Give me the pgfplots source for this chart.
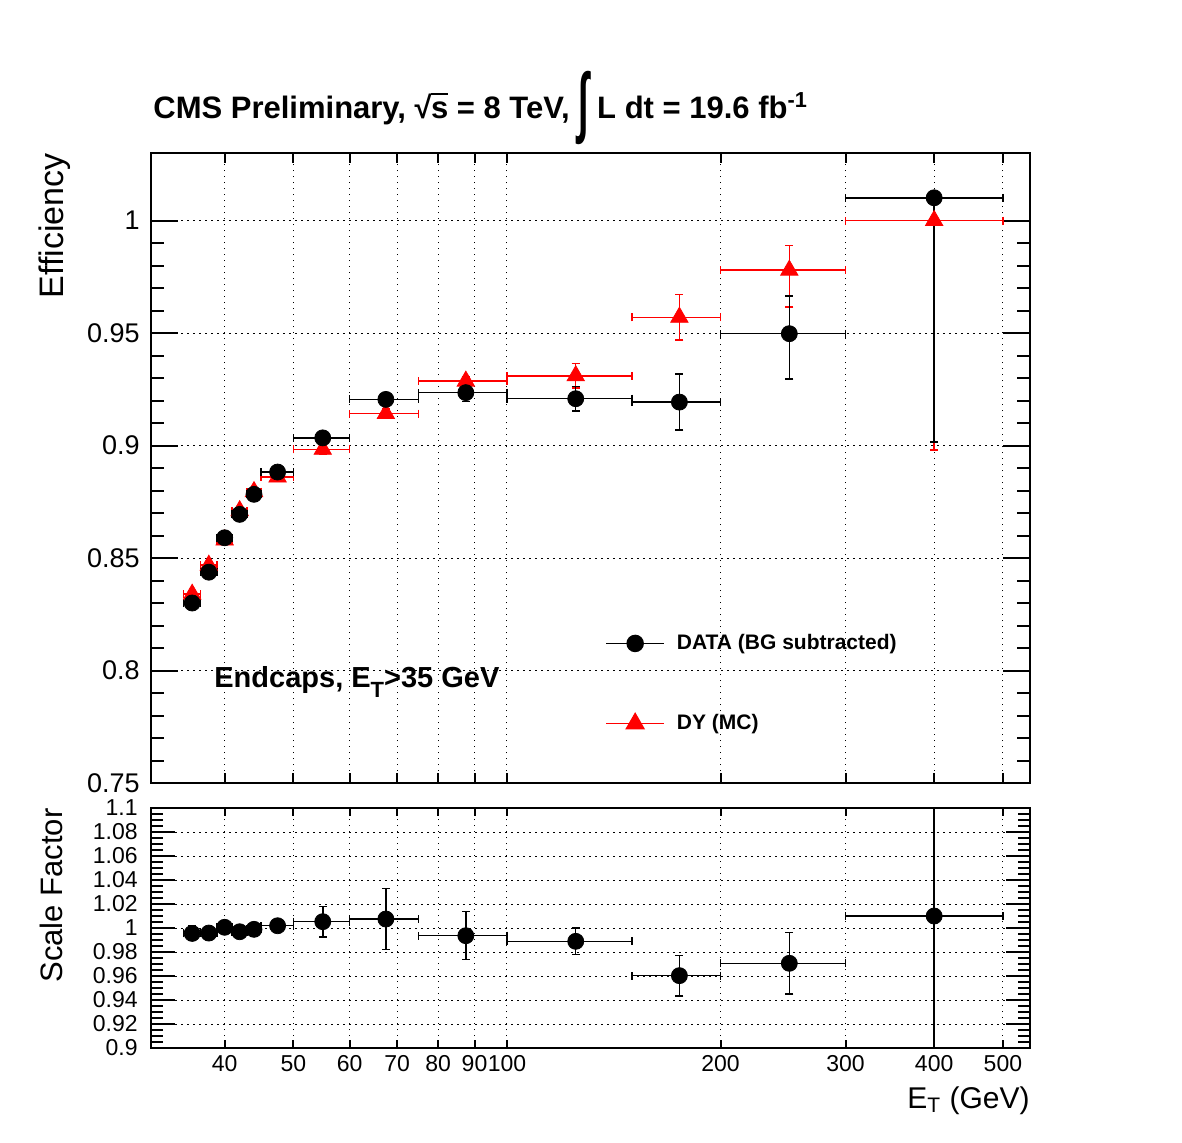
\documentclass[border=0pt]{standalone}
\usepackage{fontspec}
\setmainfont{Liberation Sans}
\usepackage{graphicx}
\usepackage{pgfplots}
\usepackage{pgfplotstable}
\pgfplotsset{compat=1.18}

\pgfplotstableread{
x y exm exp eym eyp
36 0.8300 1 1 0.0015 0.0015
38 0.8437 1 1 0.0015 0.0015
40 0.8590 1 1 0.0015 0.0015
42 0.8694 1 1 0.0015 0.0015
44 0.8783 1 1 0.0015 0.0015
47.5 0.8882 2.5 2.5 0.0015 0.0015
55 0.9034 5 5 0.0015 0.0015
67.5 0.9205 7.5 7.5 0.0015 0.0015
87.5 0.9235 12.5 12.5 0.004 0.004
125 0.9208 25 25 0.0055 0.0055
175 0.9193 25 25 0.0125 0.0125
250 0.9497 50 50 0.0202 0.0167
400 1.0101 100 100 0.1085 0.0
}\dataeff

\pgfplotstableread{
x y exm exp eym eyp
36 0.8339 1 1 0.0015 0.0015
38 0.8468 1 1 0.0015 0.0015
40 0.8580 1 1 0.0015 0.0015
42 0.8710 1 1 0.0015 0.0015
44 0.8795 1 1 0.0015 0.0015
47.5 0.8860 2.5 2.5 0.0015 0.0015
55 0.8983 5 5 0.002 0.002
67.5 0.9142 7.5 7.5 0.002 0.002
87.5 0.9286 12.5 12.5 0.002 0.002
125 0.9310 25 25 0.0055 0.0055
175 0.9570 25 25 0.0102 0.0102
250 0.9779 50 50 0.0164 0.0111
400 1.0000 100 100 0.1020 0.0
}\mceff

\pgfplotstableread{
x y exm exp eym eyp
36 0.9955 1 1 0.006 0.006
38 0.9958 1 1 0.003 0.003
40 1.0006 1 1 0.003 0.003
42 0.9969 1 1 0.003 0.003
44 0.9989 1 1 0.003 0.003
47.5 1.0019 2.5 2.5 0.003 0.003
55 1.0053 5 5 0.0128 0.0128
67.5 1.0075 7.5 7.5 0.0255 0.0255
87.5 0.9936 12.5 12.5 0.0200 0.0200
125 0.9889 25 25 0.011 0.011
175 0.9603 25 25 0.017 0.017
250 0.9706 50 50 0.0255 0.0255
400 1.0100 100 100 0.15 0.15
}\sfdata

\begin{document}
\begin{tikzpicture}
\path[use as bounding box] (0,0) rectangle (591pt,-571pt);

\begin{axis}[
  scale only axis, anchor=south west,
  at={(75.5pt,-391.5pt)}, width=439.5pt, height=315pt,
  xmode=log, xmin=31.5, xmax=546,
  ymin=0.75, ymax=1.03,
  axis line style={line width=1pt},
  tick style={black, line width=1pt},
  tick align=inside,
  xtick={40,50,60,70,80,90,100,200,300,400,500},
  xticklabels={},
  xtick style={/pgfplots/major tick length=5pt},
  extra x ticks={100}, extra x tick labels={},
  extra x tick style={/pgfplots/major tick length=9pt},
  xmajorgrids, ymajorgrids,
  major grid style={black, line width=0.5pt, dash pattern=on 0.75pt off 2.25pt},
  ytick={0.75,0.8,0.85,0.9,0.95,1}, yticklabels={0.75,0.8,0.85,0.9,0.95,1},
  minor y tick num=4,
  major tick length=13.5pt, minor tick length=6.5pt,
  yticklabel style={font=\fontsize{13.5}{14}\selectfont, inner sep=0pt, xshift=-5.5pt},
  legend image code/.code={\draw[mark repeat=2,mark phase=2,#1] plot coordinates {(0pt,0pt) (14.5pt,0pt) (29pt,0pt)};},
  legend style={at={(0.5165,0.243)}, anchor=north west, draw=none, fill=none,
    font=\bfseries\fontsize{10.5}{12}\selectfont, inner sep=0pt, row sep=27pt,
    /tikz/every odd column/.append style={column sep=4pt}},
  legend cell align=left,
]
\addlegendimage{black, line width=0.75pt, mark=*, mark size=4pt, mark options={solid}}
\addlegendentry{DATA (BG subtracted)}
\addlegendimage{red, line width=0.75pt, mark=triangle*, mark size=5pt, mark options={solid, fill=red}}
\addlegendentry{DY (MC)}

\addplot[forget plot, red, only marks, mark=triangle*, mark size=5pt, mark options={solid, fill=red},
  error bars/.cd, x dir=both, x explicit, y dir=both, y explicit,
  error bar style={line width=0.75pt, red},
  error mark options={red, line width=0.75pt, mark size=2pt, rotate=90}]
  table[x=x, y=y, x error minus=exm, x error plus=exp, y error minus=eym, y error plus=eyp] {\mceff};
\addplot[forget plot, black, only marks, mark=*, mark size=4pt, mark options={solid},
  error bars/.cd, x dir=both, x explicit, y dir=both, y explicit,
  error bar style={line width=0.75pt, black},
  error mark options={black, line width=0.75pt, mark size=2pt, rotate=90}]
  table[x=x, y=y, x error minus=exm, x error plus=exp, y error minus=eym, y error plus=eyp] {\dataeff};
\end{axis}

\begin{axis}[
  scale only axis, anchor=south west,
  at={(75.5pt,-524pt)}, width=439.5pt, height=120pt,
  xmode=log, xmin=31.5, xmax=546,
  ymin=0.9, ymax=1.1,
  axis line style={line width=1pt},
  tick style={black, line width=1pt},
  tick align=inside,
  xtick={40,50,60,70,80,90,100,200,300,400,500},
  xticklabels={40,50,60,70,80,90,100,200,300,400,500},
  xtick style={/pgfplots/major tick length=4pt},
  extra x ticks={100}, extra x tick labels={},
  extra x tick style={/pgfplots/major tick length=7pt},
  xmajorgrids, ymajorgrids,
  major grid style={black, line width=0.5pt, dash pattern=on 0.75pt off 2.25pt},
  xticklabel style={font=\fontsize{11.5}{12}\selectfont, inner sep=0pt, yshift=-3.5pt},
  ytick={0.9,0.92,0.94,0.96,0.98,1,1.02,1.04,1.06,1.08,1.1},
  yticklabels={0.9,0.92,0.94,0.96,0.98,1,1.02,1.04,1.06,1.08,1.1},
  minor y tick num=3,
  major tick length=12pt, minor tick length=6pt,
  yticklabel style={font=\fontsize{11.5}{12}\selectfont, inner sep=0pt, xshift=-6.5pt},
]
\addplot[black, only marks, mark=*, mark size=4pt, mark options={solid},
  error bars/.cd, x dir=both, x explicit, y dir=both, y explicit,
  error bar style={line width=0.75pt, black},
  error mark options={black, line width=0.75pt, mark size=2pt, rotate=90}]
  table[x=x, y=y, x error minus=exm, x error plus=exp, y error minus=eym, y error plus=eyp] {\sfdata};
\end{axis}

\begin{scope}[x=0.5pt,y=-0.5pt]
\node[anchor=base west, inner sep=0pt, font=\bfseries\fontsize{15.5}{17}\selectfont] at (153,118)
  {CMS Preliminary, √\kern-0.02em\makebox[0pt][l]{\rule[0.74em]{0.55em}{0.07em}}s = 8 TeV, \raisebox{-0.3em}{\scalebox{1.2}[2.5]{∫}} L dt = 19.6 fb\textsuperscript{-1}};
\node[anchor=base west, inner sep=0pt, font=\bfseries\fontsize{14.5}{16}\selectfont] at (214,687)
  {Endcaps, E\raisebox{-0.35em}{\fontsize{11}{12}\selectfont T}>35 GeV};
\node[anchor=base east, rotate=90, inner sep=0pt, font=\fontsize{17}{18}\selectfont] at (63,153) {Efficiency};
\node[anchor=base east, rotate=90, inner sep=0pt, font=\fontsize{15.5}{16}\selectfont] at (62,808) {Scale Factor};
\node[anchor=base east, inner sep=0pt, font=\fontsize{15}{16}\selectfont] at (1030,1108) {E\textsubscript{T} (GeV)};
\end{scope}
\end{tikzpicture}
\end{document}
